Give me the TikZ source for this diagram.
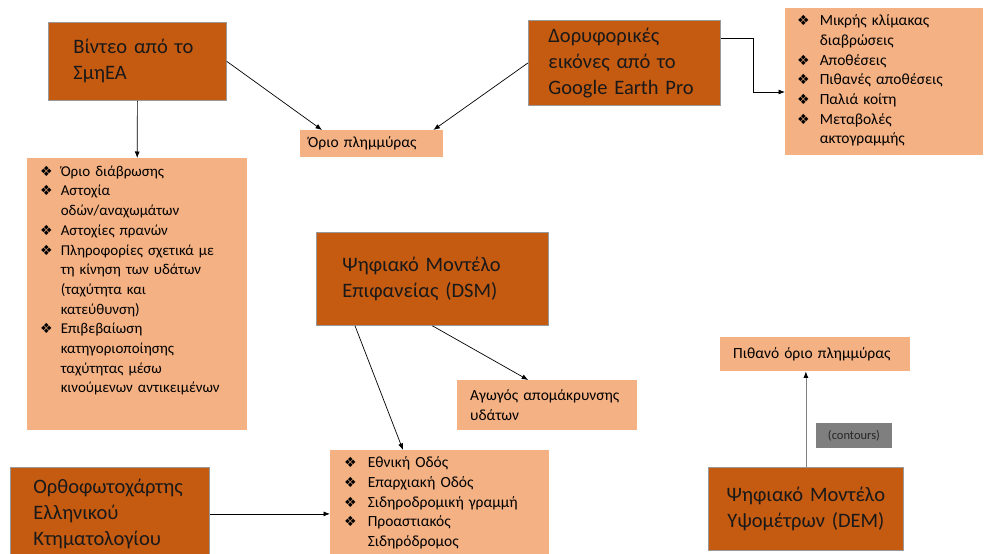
\documentclass[tikz,border=0pt]{standalone}
\usepackage{fontspec}
\setmainfont{Carlito}
\newfontfamily\symfont{DejaVu Sans}
\usetikzlibrary{arrows.meta,calc,positioning}
\definecolor{darkorange}{HTML}{C55A11}
\definecolor{lightorange}{HTML}{F4B183}
\definecolor{greybox}{HTML}{7F7F7F}
\newcommand{\bul}{{\symfont\fontsize{14}{14}\selectfont ❖}}
\newcommand{\lines}[1]{\begin{tabular}[t]{@{}l@{}}#1\end{tabular}}
\newcommand{\blist}[2]{\begin{tabular}[t]{@{}l@{\hspace{#1}}l@{}}#2\end{tabular}}

\begin{document}
\begin{tikzpicture}[x=1pt,y=-1pt,
darkbox/.style = {draw=black!40, line width=0.8pt, fill=darkorange, text=black!90, anchor=north west, align=left, inner ysep=0pt, font=\fontsize{20.5}{26}\selectfont},
lightbox/.style = {fill=lightorange, anchor=north west, align=left, inner ysep=0pt, font=\fontsize{15.5}{19.7}\selectfont},
conn/.style = {-{Latex[length=6.5pt,width=5pt]}, line width=0.7pt}]

\clip (0,0) rectangle (985,554);
\fill[white] (0,0) rectangle (985,554);

\node[darkbox, text width=128pt, minimum height=78pt, inner xsep=25pt] (vid) at (48,22) {\lines{Βίντεο από το\\ΣμηΕΑ}};
\node[lightbox, text width=127pt, inner xsep=8pt, text height=17.5pt, text depth=9.5pt] (flood) at (300,130) {Όριο πλημμύρας};
\node[darkbox, text width=152pt, minimum height=85pt, inner xsep=20pt] (sat) at (528,20) {\lines{Δορυφορικές\\εικόνες από το\\Google Earth Pro}};
\node[lightbox, text width=174pt, inner xsep=12pt, text height=17.5pt, text depth=129.5pt] (satlist) at (785,8) {\blist{10pt}{%
\bul & Μικρής κλίμακας\\ & διαβρώσεις\\ \bul & Αποθέσεις\\ \bul & Πιθανές αποθέσεις\\ \bul & Παλιά κοίτη\\ \bul & Μεταβολές\\ & ακτογραμμής}};

\node[lightbox, text width=220pt, inner xsep=0pt, text height=18pt, text depth=254pt, font=\fontsize{15}{19.7}\selectfont] (errlist) at (27,158) {\hspace*{13pt}\blist{8pt}{%
\bul & Όριο διάβρωσης\\ \bul & Αστοχία\\ & οδών/αναχωμάτων\\ \bul & Αστοχίες πρανών\\ \bul & Πληροφορίες σχετικά με\\ & τη κίνηση των υδάτων\\ & (ταχύτητα και\\ & κατεύθυνση)\\ \bul & Επιβεβαίωση\\ & κατηγοριοποίησης\\ & ταχύτητας μέσω\\ & κινούμενων αντικειμένων}};

\node[darkbox, text width=180pt, minimum height=93pt, inner xsep=26pt] (dsm) at (316,232) {\lines{Ψηφιακό Μοντέλο\\Επιφανείας (DSM)}};
\node[lightbox, text width=154pt, inner xsep=13pt, text height=20.5pt, text depth=29.5pt] (drain) at (457,380) {\lines{Αγωγός απομάκρυνσης\\υδάτων}};
\node[lightbox, text width=191pt, inner xsep=14pt, text height=17.5pt, text depth=92.5pt] (roads) at (330,450) {\blist{11pt}{%
\bul & Εθνική Οδός\\ \bul & Επαρχιακή Οδός\\ \bul & Σιδηροδρομική γραμμή\\ \bul & Προαστιακός\\ & Σιδηρόδρομος}};
\node[darkbox, text width=153pt, minimum height=93pt, inner xsep=23pt] (ortho) at (10,467) {\lines{Ορθοφωτοχάρτης\\Ελληνικού\\Κτηματολογίου}};

\node[lightbox, text width=164pt, inner xsep=13pt, text height=21pt, text depth=13pt] (prob) at (720,337) {Πιθανό όριο πλημμύρας};
\node[fill=greybox, minimum width=76pt, minimum height=25pt, inner sep=0pt, text=black!85, font=\fontsize{12.5}{14}\selectfont] (contours) at (854,435.5) {(contours)};
\node[darkbox, align=center, text width=175pt, minimum height=83pt, inner xsep=10pt] (dem) at (708,467) {Ψηφιακό Μοντέλο\\Υψομέτρων (DEM)};

\draw[conn] (vid.south) -- (errlist.north);
\draw[conn] (vid.east) -- ([xshift=22pt]flood.north west);
\draw[conn] (sat.west) -- ([xshift=-10pt]flood.north east);
\draw[conn] ([yshift=-18pt]sat.north east) -- ++(33,0) |- ([yshift=-84pt]satlist.north west);
\draw[conn] (dsm.south) -- ([xshift=-19pt]drain.north);
\draw[conn] ([xshift=39pt]dsm.south west) -- ([xshift=73pt]roads.north west);
\draw[conn] (ortho.east) -- (ortho.east -| roads.west);
\draw[-{Latex[length=6.5pt,width=5pt,black]}, line width=0.8pt, black!50] (dem.north) -- (dem.north |- prob.south);
\end{tikzpicture}
\end{document}
